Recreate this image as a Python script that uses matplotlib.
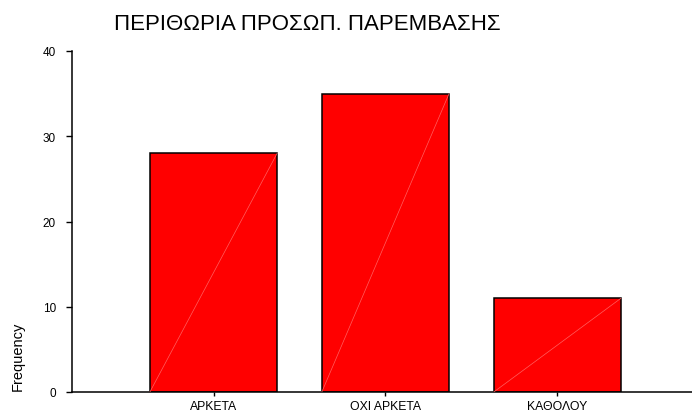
import matplotlib
matplotlib.use("Agg")
import matplotlib.pyplot as plt
import numpy as np

categories = ["ΑΡΚΕΤΑ", "ΟΧΙ ΑΡΚΕΤΑ", "ΚΑΘΟΛΟΥ"]
frequency = [28, 35, 11]
y_ticks = [0, 10, 20, 30, 40]
title = "ΠΕΡΙΘΩΡΙΑ ΠΡΟΣΩΠ. ΠΑΡΕΜΒΑΣΗΣ"

plt.rcParams['font.family'] = ['Liberation Sans', 'DejaVu Sans']

fig = plt.figure(figsize=(6.92, 4.14), dpi=100)
ax = fig.add_axes([72/692, 1-393/414, 1-72/692, (393-52)/414])

x = np.arange(len(categories))
width = 0.74
bars = ax.bar(x, frequency, width=width, color="#ff0000", edgecolor="black", linewidth=1.1, zorder=2)
for xi, v in zip(x, frequency):
    ax.plot([xi - width/2, xi + width/2], [0, v], color="#ff6060", linewidth=0.5, zorder=3)

ax.set_xlim(-0.823, 2.783)
ax.set_ylim(0, 40)
ax.set_yticks(y_ticks)
ax.set_xticks(x)
ax.set_xticklabels(categories, fontsize=8.8)
ax.tick_params(axis='y', labelsize=8.5, length=4.5, width=1, direction='out', pad=7)
ax.tick_params(axis='x', length=3, width=1, direction='out', pad=3)
for s in ['top', 'right']:
    ax.spines[s].set_visible(False)
for s in ['left', 'bottom']:
    ax.spines[s].set_linewidth(1.1)

fig.text(18/692, 1-356/414, "Frequency", rotation=90, fontsize=10.5, ha='center', va='center')
fig.text(307/692, 1-25/414, title, fontsize=16, ha='center', va='center')

fig.savefig("out.png", dpi=100)
